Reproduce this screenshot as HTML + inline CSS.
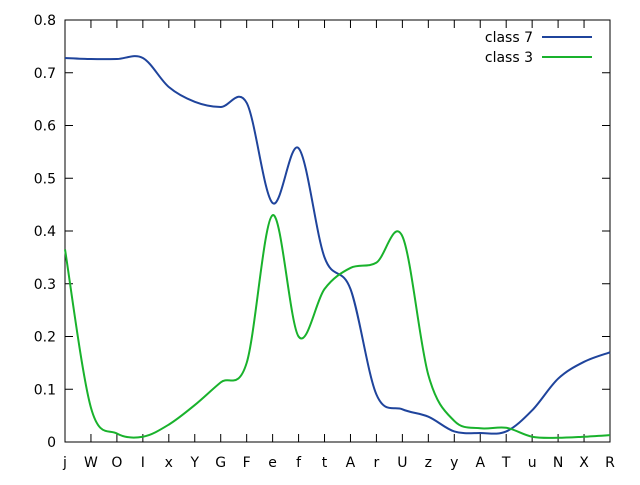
<!DOCTYPE html>
<html><head><meta charset="utf-8"><style>
body{margin:0;background:#fff}
text{font-family:"DejaVu Sans","Liberation Sans",sans-serif;font-size:14px;fill:#000}
</style></head><body>
<svg width="640" height="480">
<g id="axes"></g>
<g id="series"></g>
<g>
<text x="533" y="42" text-anchor="end">class 7</text>
<line x1="542" y1="37" x2="592" y2="37" stroke="#1f449c" stroke-width="2"/>
<text x="533" y="62" text-anchor="end">class 3</text>
<line x1="542" y1="57" x2="592" y2="57" stroke="#19b22c" stroke-width="2"/>
</g>
</svg>
<script>
const categories=["j","W","O","I","x","Y","G","F","e","f","t","A","r","U","z","y","A","T","u","N","X","R"];
const class7=[0.728,0.726,0.726,0.728,0.673,0.645,0.635,0.643,0.453,0.557,0.35,0.29,0.09,0.062,0.048,0.02,0.017,0.02,0.06,0.12,0.152,0.17];
const class3=[0.365,0.065,0.016,0.01,0.033,0.07,0.113,0.15,0.43,0.2,0.29,0.33,0.34,0.39,0.127,0.04,0.026,0.027,0.01,0.008,0.01,0.013];
const yTicks=[0,0.1,0.2,0.3,0.4,0.5,0.6,0.7,0.8];
const L=65,R=610,T=20,B=442,NS="http://www.w3.org/2000/svg";
const xs=i=>L+i*(R-L)/(categories.length-1);
const ys=v=>B-(v/0.8)*(B-T);
function mk(t,a,p){const e=document.createElementNS(NS,t);for(const k in a)e.setAttribute(k,a[k]);p.appendChild(e);return e;}
const ax=document.getElementById('axes');
const frame=mk('rect',{x:L,y:T,width:R-L,height:B-T,fill:'none',stroke:'#000','stroke-width':1},ax);


yTicks.forEach(v=>{
 const y=ys(v);
 const l=mk('path',{d:`M${L},${y}h8M${R},${y}h-8`,stroke:'#000'},ax);
 
 
 const t=mk('text',{x:L-9,y:y+5,'text-anchor':'end'},ax);t.textContent=v===0?'0':v.toFixed(1);
 
 
});
categories.forEach((c,i)=>{
 const x=xs(i);
 const l=mk('path',{d:`M${x},${B}v-8M${x},${T}v8`,stroke:'#000'},ax);
 
 
 const t=mk('text',{x:x,y:467,'text-anchor':'middle'},ax);t.textContent=c;
 
 
});
function pathFor(vals){
 const p=vals.map((v,i)=>[xs(i),ys(v)]);
 let d=`M${p[0][0]},${p[0][1]}`;
 for(let i=0;i<p.length-1;i++){
  const p0=p[i-1]||p[i],p1=p[i],p2=p[i+1],p3=p[i+2]||p2;
  const c1=[p1[0]+(p2[0]-p0[0])/6,p1[1]+(p2[1]-p0[1])/6];
  const c2=[p2[0]-(p3[0]-p1[0])/6,p2[1]-(p3[1]-p1[1])/6];
  d+=`C${c1[0]},${c1[1]} ${c2[0]},${c2[1]} ${p2[0]},${p2[1]}`;
 }
 return d;
}
const sg=document.getElementById('series');
const s7=mk('path',{d:pathFor(class7),fill:'none',stroke:'#1f449c','stroke-width':2},sg);


const s3=mk('path',{d:pathFor(class3),fill:'none',stroke:'#19b22c','stroke-width':2},sg);


</script>
</body></html>
